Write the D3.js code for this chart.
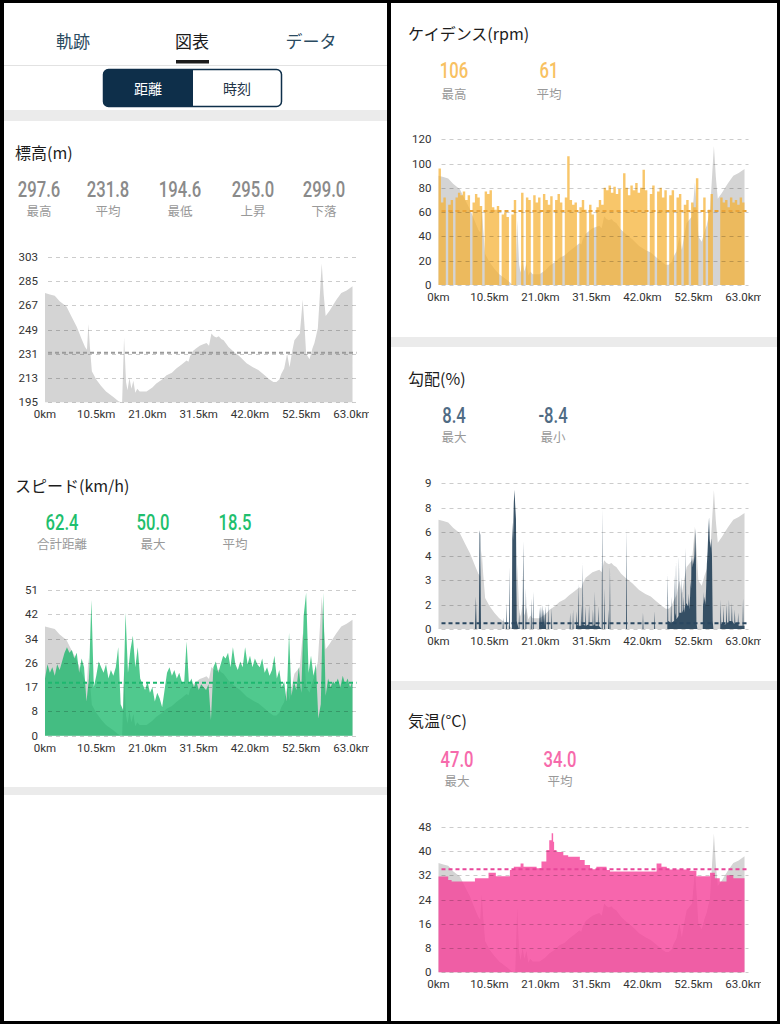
<!DOCTYPE html>
<html>
<head>
<meta charset="utf-8">
<script src="https://cdn.jsdelivr.net/npm/d3@7.9.0/dist/d3.min.js"></script>
<style>
  html, body { margin: 0; padding: 0; background: #000; }
  svg { display: block; }
</style>
</head>
<body>
<svg id="page" width="780" height="1024"></svg>
<script>
// ---- shared distance axis ----
const kmTicks = [0, 10.5, 21, 31.5, 42, 52.5, 63];
const kmLabels = ['0km', '10.5km', '21.0km', '31.5km', '42.0km', '52.5km', '63.0km'];

// ---- elevation (m) ----
const elevKm = [0, 1, 2, 3, 4.4, 5.5, 6.5, 7.5, 8.2, 8.6, 8.9, 9.2, 9.6, 10.5, 11.5, 12.5, 14, 15, 15.5, 15.8,
  16.2, 16.6, 16.9, 17.3, 17.7, 18.1, 18.5, 18.9, 19.4, 20.8, 22, 22.8, 24, 24.9, 26, 26.9, 28, 29, 29.4, 29.7,
  30.3, 31, 31.7, 32.4, 33.1, 33.6, 34.1, 34.6, 35.1, 35.6, 36.1, 36.6, 37.2, 37.6, 38.5, 39.9, 41.3, 42.6, 43.7, 44.7,
  46, 46.8, 47.4, 48, 48.4, 49, 49.6, 50.1, 50.6, 51.1, 52.2, 52.5, 52.8, 53.2, 53.5, 54.2, 54.8, 55.2, 55.9, 56.4,
  56.7, 57.1, 57.5, 58.3, 59, 59.7, 60.7, 61.8, 63];
const elev = [276, 275, 274, 270, 266, 258, 251, 242, 236, 234, 253, 236, 218, 212, 207, 203, 199, 196, 195, 195,
  243, 210, 204, 213, 205, 211, 202, 205, 203, 203, 206, 209, 212, 215, 217, 220, 223, 226, 225, 229,
  233, 235, 237, 238, 239, 237, 246, 244, 243, 244, 242, 241, 238, 236, 233, 229, 224, 221, 219, 216,
  212, 210, 210, 212, 216, 220, 231, 221, 232, 241, 246, 258, 271, 250, 231, 227, 235, 239, 250, 280,
  298, 275, 259, 263, 267, 271, 276, 278, 281];
const elevTicks = [195, 213, 231, 249, 267, 285, 303];
const elevTickLabels = ['195', '213', '231', '249', '267', '285', '303'];
const elevAvg = 231.8;
const elevStatValues = ['297.6', '231.8', '194.6', '295.0', '299.0'];
const elevStatNames = ['最高', '平均', '最低', '上昇', '下落'];

// ---- speed (km/h), every 0.5 km ----
const speed = [20, 25, 22, 24, 21, 25, 23, 26, 29, 31, 29, 30, 27, 29, 22, 27, 24, 12, 20, 47.5,
  17, 21, 26, 24, 22, 25, 20, 23, 21, 24, 31, 11, 9, 43, 22, 30, 35, 24, 31, 20,
  18, 16, 19, 15, 17, 12, 15, 13, 10, 16, 22, 24, 21, 23, 20, 22, 19, 18, 33, 18,
  20, 17, 19, 16, 18, 17, 16, 18, 5.5, 24, 26, 22, 25, 28, 27, 29, 24, 31, 25, 23,
  26, 24, 31, 25, 28, 24, 27, 25, 24, 27, 22, 24, 21, 23, 28, 20, 23, 17, 19, 12,
  36, 14, 19, 16, 24, 15, 42, 50, 22, 28, 21, 25, 6, 11, 50, 14, 20, 17, 19, 18,
  20, 17, 21, 18, 20, 17, 19];
const speedTicks = [0, 8.5, 17, 25.5, 34, 42.5, 51];
const speedTickLabels = ['0', '8', '17', '26', '34', '42', '51'];
const speedAvg = 18.5;
const speedStatValues = ['62.4', '50.0', '18.5'];
const speedStatNames = ['合計距離', '最大', '平均'];

// ---- cadence (rpm), every 0.5 km ----
const cadence = [96, 68, 72, 0, 66, 70, 0, 72, 76, 74, 77, 70, 74, 0, 68, 75, 72, 65, 0, 77,
  75, 78, 64, 62, 65, 0, 58, 60, 56, 0, 58, 70, 0, 0, 76, 0, 72, 70, 0, 74,
  68, 72, 0, 75, 70, 66, 73, 0, 70, 75, 68, 0, 72, 106, 70, 66, 68, 0, 64, 70,
  62, 0, 66, 58, 0, 64, 70, 66, 80, 78, 82, 76, 81, 75, 79, 0, 92, 80, 74, 82,
  78, 84, 76, 80, 95, 78, 0, 75, 82, 0, 77, 80, 72, 78, 0, 74, 78, 0, 72, 75,
  0, 66, 70, 0, 68, 64, 88, 0, 0, 72, 0, 62, 75, 0, 0, 0, 72, 68, 70, 64,
  72, 68, 70, 66, 72, 68, 70];
const cadTicks = [0, 20, 40, 60, 80, 100, 120];
const cadTickLabels = ['0', '20', '40', '60', '80', '100', '120'];
const cadAvg = 61;
const cadStatValues = ['106', '61'];
const cadStatNames = ['最高', '平均'];

// ---- gradient (%) ----
const gradKm = [0, 7.5, 7.7, 7.85, 8.3, 8.45, 8.6, 8.75, 13.2, 13.3, 13.4, 13.9, 14.0, 14.1, 14.5, 14.6, 14.7, 15.1, 15.2, 15.35,
  15.5, 15.65, 15.8, 15.95, 16.1, 16.5, 16.6, 16.7, 17.3, 17.45, 17.6, 17.9, 18.0, 18.1, 19.0, 19.1, 19.2, 19.4, 19.5, 19.6,
  20.7, 20.8, 20.9, 21.1, 21.25, 21.4, 21.5, 21.7, 21.85, 22.0, 22.15, 22.5, 22.6, 22.7, 23.2, 23.3, 23.4, 27.0, 27.1, 27.2,
  27.6, 27.7, 27.8, 28.3, 28.4, 28.5, 28.7, 28.8, 28.9, 29.3, 29.4, 29.5, 29.6, 29.7, 29.8, 30.2, 30.3, 30.4, 30.9, 31.0,
  31.1, 31.7, 31.8, 31.9, 32.1, 32.2, 32.3, 32.8, 32.9, 33.0, 33.6, 33.7, 33.8, 34.1, 34.2, 34.3, 34.9, 35.0, 35.1, 35.2,
  35.3, 35.4, 38.6, 38.7, 38.8, 42.0, 42.1, 42.2, 44.4, 44.5, 44.6, 47.1, 47.2, 47.3, 47.8, 47.9, 48.0, 48.5, 48.6, 48.7,
  48.8, 48.9, 49.0, 49.4, 49.5, 49.6, 50.0, 50.1, 50.2, 50.4, 50.5, 50.6, 50.8, 50.9, 51.0, 51.4, 51.5, 51.6, 51.8, 51.9,
  52.0, 52.1, 52.25, 52.4, 52.55, 52.7, 52.85, 53.0, 53.1, 53.3, 54.4, 54.5, 54.6, 54.8, 54.95, 55.1, 55.25, 55.4, 55.55, 55.7,
  55.85, 56.0, 56.15, 56.3, 56.45, 56.6, 58.0, 58.1, 58.2, 58.6, 58.7, 58.8, 59.2, 59.3, 59.4, 59.7, 59.8, 59.9, 60.3, 60.4,
  60.5, 60.9, 61.0, 61.1, 61.6, 61.7, 61.8, 62.6, 62.7, 62.8, 63];
const grad = [0, 0, 2.0, 0, 0, 6.1, 5.8, 0, 0, 0.7, 0, 0, 1.6, 0, 0, 3.8, 0, 0, 6.6, 5.5,
  7.8, 8.6, 7.6, 6.8, 0.5, 0, 1.0, 0, 0, 5.4, 0, 0, 2.5, 0, 0, 1.9, 0, 0, 2.3, 0,
  0, 1.3, 0.3, 1.4, 0.2, 1.5, 0.3, 1.2, 0.2, 1.4, 0, 0, 1.6, 0, 0, 1.3, 0, 0, 1.0, 0,
  0, 1.2, 0, 0, 1.1, 0.2, 0.3, 2.8, 0.2, 0.2, 1.5, 0.2, 0.3, 4.1, 0.3, 0.2, 1.4, 0.2, 0.3, 1.5,
  0.2, 0.2, 1.2, 0.2, 0.3, 2.3, 0.2, 0.2, 1.4, 0.2, 0, 7.4, 0, 0, 2.5, 0, 0, 1.2, 0, 0,
  3.9, 0, 0, 6.2, 0, 0, 1.0, 0, 0, 1.1, 0, 0, 3.4, 0.5, 0.4, 2.0, 0.4, 0.5, 3.3, 0.8,
  1.0, 4.2, 0.6, 0.8, 4.5, 1.0, 1.0, 3.2, 1.0, 1.2, 2.0, 1.0, 1.5, 5.0, 1.6, 1.4, 2.2, 1.2, 2.0, 3.0,
  2.5, 4.6, 3.8, 4.4, 4.0, 4.6, 6.2, 4.4, 0.4, 0, 0, 2.3, 1.5, 2.0, 1.5, 2.5, 4.0, 4.8, 6.0, 6.9,
  5.5, 5.0, 5.6, 4.6, 0.5, 0, 0, 1.8, 0.3, 0.4, 1.4, 0.3, 0.3, 1.6, 0.4, 0.4, 1.8, 0.5, 0.5, 1.6,
  0.5, 0.3, 1.2, 0.4, 0.3, 1.0, 0.2, 0.2, 1.9, 0.2, 0.2];
const gradTicks = [0, 1.5, 3, 4.5, 6, 7.5, 9];
const gradTickLabels = ['0', '2', '3', '4', '6', '8', '9'];
const gradAvg = 0.35;
const gradStatValues = ['8.4', '-8.4'];
const gradStatNames = ['最大', '最小'];

// ---- temperature (°C), step changes ----
const tempKm = [0, 2.0, 2.7, 7.5, 10.3, 11.8, 14.7, 15.5, 16.9, 17.5, 20.2, 21.2, 22.2, 22.8, 23.3, 23.6, 23.8, 24.3, 25.7, 26.7,
  29.1, 30.1, 31.2, 32.5, 34.6, 35.3, 44.9, 45.9, 47.0, 51.7, 53.1, 55.9, 56.9, 57.9, 59.3, 60.7, 63];
const temp = [31.6, 30.4, 29.9, 31.0, 32.8, 31.7, 33.7, 34.8, 35.9, 34.8, 34.3, 36.5, 40.3, 43.5, 45.8, 43.0, 40.3, 39.7, 38.6, 38.1,
  37.0, 35.4, 34.0, 34.8, 33.7, 33.2, 35.9, 34.8, 33.9, 33.5, 31.7, 32.8, 31.0, 29.9, 32.0, 31.0, 31.0];
const tempTicks = [0, 8, 16, 24, 32, 40, 48];
const tempTickLabels = ['0', '8', '16', '24', '32', '40', '48'];
const tempAvg = 34.0;
const tempStatValues = ['47.0', '34.0'];
const tempStatNames = ['最大', '平均'];

const JP = '"Noto Sans CJK JP", "Noto Sans", sans-serif';
const NUM = 'Roboto, "Noto Sans", sans-serif';
const AX = 'Roboto, "Noto Sans", sans-serif';

const svg = d3.select('#page');

// panels
svg.append('rect').attr('x', 0).attr('y', 0).attr('width', 780).attr('height', 1024).attr('fill', '#000');
svg.append('rect').attr('x', 4).attr('y', 3).attr('width', 383).attr('height', 1018).attr('fill', '#fff');
svg.append('rect').attr('x', 391).attr('y', 3).attr('width', 386).attr('height', 1018).attr('fill', '#fff');

// gray separators
[[4, 110, 383, 11], [4, 787, 383, 8], [391, 337, 386, 10], [391, 681, 386, 9]].forEach(([x, y, w, h]) => {
  svg.append('rect').attr('x', x).attr('y', y).attr('width', w).attr('height', h).attr('fill', '#ebebeb');
});

// tabs
const tabs = [['軌跡', 73], ['図表', 192], ['データ', 311]];
tabs.forEach(([t, cx], i) => {
  svg.append('text').attr('x', cx).attr('y', 48).attr('text-anchor', 'middle')
    .attr('font-family', JP).attr('font-size', 17)
    .attr('fill', i === 1 ? '#1c1c1c' : '#2a4a60').text(t);
});
svg.append('rect').attr('x', 176).attr('y', 60).attr('width', 33).attr('height', 3.5).attr('fill', '#1c1c1c');
svg.append('line').attr('x1', 4).attr('x2', 387).attr('y1', 65.5).attr('y2', 65.5).attr('stroke', '#e2e2e2');

// toggle
svg.append('rect').attr('x', 103.5).attr('y', 69.5).attr('width', 178).attr('height', 37).attr('rx', 5)
  .attr('fill', '#fff').attr('stroke', '#0e2f4a').attr('stroke-width', 1.5);
svg.append('path').attr('d', 'M193,69.5 H108.5 A5,5 0 0 0 103.5,74.5 V101.5 A5,5 0 0 0 108.5,106.5 H193 Z')
  .attr('fill', '#0e2f4a');
svg.append('text').attr('x', 148).attr('y', 94).attr('text-anchor', 'middle').attr('font-family', JP)
  .attr('font-size', 14).attr('fill', '#fff').text('距離');
svg.append('text').attr('x', 237).attr('y', 94).attr('text-anchor', 'middle').attr('font-family', JP)
  .attr('font-size', 14).attr('fill', '#1f3448').text('時刻');

function section(title, tx, ty, values, names, xs, vy, ly, color) {
  svg.append('text').attr('x', tx).attr('y', ty).attr('font-family', JP).attr('font-size', 16)
    .attr('fill', '#1c1c1c').text(title);
  values.forEach((v, i) => {
    // condensed numerals
    svg.append('text').attr('transform', `translate(${xs[i]},${vy}) scale(0.74,1)`)
      .attr('text-anchor', 'middle')
      .attr('font-family', NUM).attr('font-size', 22.5).attr('font-weight', 500)
      .attr('fill', color).text(v);
    svg.append('text').attr('x', xs[i]).attr('y', ly).attr('text-anchor', 'middle')
      .attr('font-family', JP).attr('font-size', 12.5).attr('fill', '#999').text(names[i]);
  });
}

let clipId = 0;
function chart(o) {
  const g = svg.append('g');
  const x = d3.scaleLinear().domain([0, 63]).range([o.x0, o.x1]);
  const y = d3.scaleLinear().domain([o.ticks[0], o.ticks[o.ticks.length - 1]]).range([o.yBot, o.yTop]);
  const yElev = d3.scaleLinear().domain([195, 303]).range([o.yBot, o.yTop]).clamp(true);

  // elevation backdrop
  const elevArea = d3.area()
    .x((d, i) => x(elevKm[i]))
    .y0(o.yBot)
    .y1(d => yElev(d));
  g.append('path').datum(elev).attr('d', elevArea).attr('fill', '#d4d4d4');

  // series
  if (o.values) {
    const area = d3.area()
      .x((d, i) => x(o.kms[i]))
      .y0(o.yBot)
      .y1(d => y(d))
      .curve(o.curve || d3.curveLinear);
    g.append('path').datum(o.values).attr('d', area)
      .attr('fill', o.color).attr('fill-opacity', o.opacity);
  }

  // grid
  g.selectAll('line.grid').data(o.ticks).join('line')
    .attr('class', 'grid')
    .attr('x1', o.x0 + 3).attr('x2', o.x1 + 4)
    .attr('y1', d => Math.round(y(d)) + 0.5).attr('y2', d => Math.round(y(d)) + 0.5)
    .attr('stroke', 'rgba(0,0,0,0.2)').attr('stroke-dasharray', '4,4');

  // average
  g.append('line')
    .attr('x1', o.x0 + 3).attr('x2', o.x1 + 4)
    .attr('y1', y(o.avg)).attr('y2', y(o.avg))
    .attr('stroke', o.avgColor).attr('stroke-width', 2).attr('stroke-dasharray', '4,3');

  // y labels
  g.selectAll('text.yl').data(o.ticks).join('text')
    .attr('class', 'yl')
    .attr('x', o.x0 - 7).attr('y', d => y(d)).attr('dy', '0.35em')
    .attr('text-anchor', 'end').attr('font-family', AX).attr('font-size', 11.5).attr('fill', '#333')
    .text((d, i) => o.tickLabels[i]);

  // x labels (last one cut by the view edge)
  const id = 'clip' + (clipId++);
  svg.append('clipPath').attr('id', id).append('rect')
    .attr('x', o.x0 - 20).attr('y', o.yBot).attr('width', o.clipRight - o.x0 + 20).attr('height', 30);
  g.append('g').attr('clip-path', `url(#${id})`)
    .selectAll('text').data(kmTicks).join('text')
    .attr('x', d => x(d)).attr('y', o.yBot + 16)
    .attr('text-anchor', 'middle').attr('font-family', AX).attr('font-size', 11.5).attr('fill', '#333')
    .text((d, i) => kmLabels[i]);
}

const speedKm = speed.map((d, i) => i * 0.5);
const cadKm = cadence.map((d, i) => i * 0.5);

// ---- left column ----
section('標高(m)', 15, 159, elevStatValues, elevStatNames, [39, 108, 180, 253, 324], 197, 216, '#8a8a8a');
chart({ x0: 45, x1: 352.5, yTop: 256.7, yBot: 402.3, ticks: elevTicks, tickLabels: elevTickLabels,
  avg: elevAvg, avgColor: '#9a9a9a', clipRight: 369 });

section('スピード(km/h)', 15, 492, speedStatValues, speedStatNames, [62, 153, 235], 530, 549, '#1fbf6e');
chart({ x0: 45, x1: 352.5, yTop: 590, yBot: 735.7, ticks: speedTicks, tickLabels: speedTickLabels,
  kms: speedKm, values: speed, color: '#0cb462', opacity: 0.72, avg: speedAvg, avgColor: '#1db86f', clipRight: 369 });

// ---- right column ----
section('ケイデンス(rpm)', 408, 40, cadStatValues, cadStatNames, [454, 549], 78, 99, '#f8c162');
chart({ x0: 438.5, x1: 744.5, yTop: 139.3, yBot: 285, ticks: cadTicks, tickLabels: cadTickLabels,
  kms: cadKm, values: cadence, curve: d3.curveStepAfter, color: '#f5b030', opacity: 0.72,
  avg: cadAvg, avgColor: '#e9a43a', clipRight: 761 });

section('勾配(%)', 408, 385, gradStatValues, gradStatNames, [454, 553], 423, 442, '#4f6b84');
chart({ x0: 438.5, x1: 744.5, yTop: 483.3, yBot: 629, ticks: gradTicks, tickLabels: gradTickLabels,
  kms: gradKm, values: grad, color: '#234058', opacity: 0.9, avg: gradAvg, avgColor: '#2a4760', clipRight: 761 });

section('気温(°C)', 408, 727, tempStatValues, tempStatNames, [457, 560], 767, 786, '#f66aab');
chart({ x0: 438.5, x1: 744.5, yTop: 826.7, yBot: 972.3, ticks: tempTicks, tickLabels: tempTickLabels,
  kms: tempKm, values: temp, curve: d3.curveStepAfter, color: '#f54098', opacity: 0.8,
  avg: tempAvg, avgColor: '#e8479a', clipRight: 761 });
</script>
</body>
</html>
